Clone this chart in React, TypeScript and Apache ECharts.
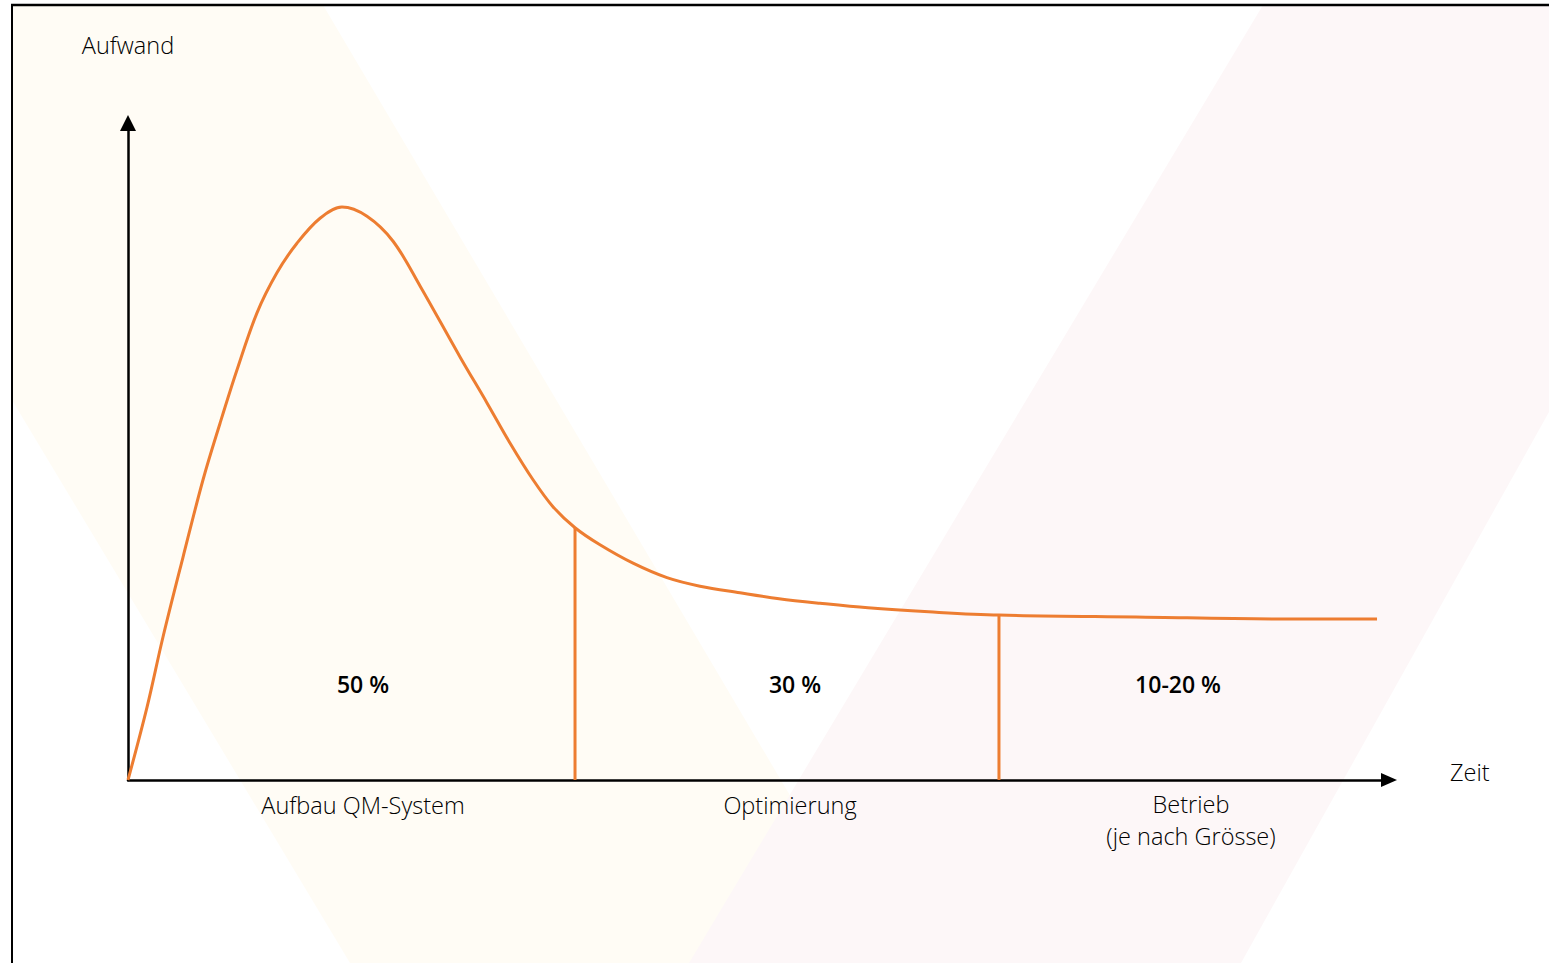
import React, { useEffect, useRef } from "react";
import * as echarts from "echarts";

// Curve: effort over time (x: time 0..100, y: effort 0..100)
const curveX = [0, 1.51, 2.78, 4.36, 5.95, 7.3, 8.64, 10.23, 11.81, 13.4, 15.23, 16.97, 18.95, 21.02, 23.16, 26.33, 28.47, 30.29, 32.12, 33.7, 35.45, 37.43, 40.05, 42.74, 45.36, 48.53, 51.63, 54.88, 58.68, 63.5, 69.07, 79.94, 92.94, 99.05];
const curveY = [0, 11.1, 21.8, 33.9, 45.7, 54.3, 62.4, 71.1, 77.2, 81.7, 85.5, 87.2, 85.8, 82.0, 75.2, 64.4, 57.4, 51.3, 45.7, 41.6, 38.4, 35.8, 33.0, 30.8, 29.5, 28.5, 27.6, 26.9, 26.2, 25.6, 25.1, 24.8, 24.5, 24.5];

// Phase boundaries (vertical lines up to the curve)
const boundaryX = [35.45, 69.07];
const boundaryY = [38.4, 25.1];

// Texts
const phaseNames = ["Aufbau QM-System", "Optimierung", "Betrieb\n(je nach Grösse)"];
const phaseShares = ["50 %", "30 %", "10-20 %"];
const yAxisName = "Aufwand";
const xAxisName = "Zeit";

const ORANGE = "#ED7D31";
const FONT = "'Open Sans', 'Noto Sans', sans-serif";

export default function App() {
  const ref = useRef<HTMLDivElement>(null);

  useEffect(() => {
    if (!ref.current) return;
    const chart = echarts.init(ref.current, undefined, { renderer: "svg" });

    const curveData = curveX.map((x, i) => [x, curveY[i]]);
    const boundarySeries = boundaryX.map((x, i) => ({
      type: "line" as const,
      data: [
        [x, 0],
        [x, boundaryY[i]],
      ],
      symbol: "none",
      lineStyle: { color: ORANGE, width: 3 },
      z: 3,
    }));

    const light = {
      fontFamily: FONT,
      fontSize: 23.5,
      fontWeight: 300,
      fill: "#000",
    };
    const share = {
      fontFamily: FONT,
      fontSize: 23,
      fontWeight: 600,
      fill: "#000",
    };

    chart.setOption({
      animation: false,
      backgroundColor: "#ffffff",
      grid: { left: 128, right: 160, top: 123, bottom: 183 },
      xAxis: {
        type: "value",
        min: 0,
        max: 100,
        name: xAxisName,
        nameLocation: "end",
        nameGap: 61,
        nameTextStyle: {
          fontFamily: FONT,
          fontSize: 23.5,
          fontWeight: 300,
          color: "#000",
          verticalAlign: "bottom",
          lineHeight: 16,
        },
        axisLine: {
          show: true,
          symbol: ["none", "triangle"],
          symbolSize: [14, 16],
          lineStyle: { color: "#000", width: 2.5 },
        },
        axisTick: { show: false },
        axisLabel: { show: false },
        splitLine: { show: false },
      },
      yAxis: {
        type: "value",
        min: 0,
        max: 100,
        name: yAxisName,
        nameLocation: "end",
        nameGap: 66,
        nameTextStyle: {
          fontFamily: FONT,
          fontSize: 23.5,
          fontWeight: 300,
          color: "#000",
          align: "center",
          verticalAlign: "bottom",
          lineHeight: 24,
        },
        axisLine: {
          show: true,
          symbol: ["none", "triangle"],
          symbolSize: [16, 16],
          lineStyle: { color: "#000", width: 2.5 },
        },
        axisTick: { show: false },
        axisLabel: { show: false },
        splitLine: { show: false },
      },
      graphic: [
        {
          type: "polygon",
          z: -10,
          silent: true,
          shape: { points: [[12, 5], [323, 5], [889, 963], [350, 963], [12, 400]] },
          style: { fill: "#FFFCF5" },
        },
        {
          type: "polygon",
          z: -9,
          silent: true,
          shape: { points: [[1263, 5], [1549, 5], [1549, 412], [1241, 963], [689, 963]] },
          style: { fill: "#FDF7F8" },
        },
        {
          type: "line",
          z: 5,
          shape: { x1: 11, y1: 5, x2: 1549, y2: 5 },
          style: { stroke: "#000", lineWidth: 2.5 },
        },
        {
          type: "line",
          z: 5,
          shape: { x1: 12, y1: 4, x2: 12, y2: 963 },
          style: { stroke: "#000", lineWidth: 2 },
        },
        {
          type: "text",
          x: 363,
          y: 805,
          style: { ...light, text: phaseNames[0], align: "center", verticalAlign: "middle" },
        },
        {
          type: "text",
          x: 790,
          y: 805,
          style: { ...light, text: phaseNames[1], align: "center", verticalAlign: "middle" },
        },
        {
          type: "text",
          x: 1191,
          y: 820,
          style: { ...light, text: phaseNames[2], lineHeight: 32, align: "center", verticalAlign: "middle" },
        },
        {
          type: "text",
          x: 363,
          y: 684,
          style: { ...share, text: phaseShares[0], align: "center", verticalAlign: "middle" },
        },
        {
          type: "text",
          x: 795,
          y: 684,
          style: { ...share, text: phaseShares[1], align: "center", verticalAlign: "middle" },
        },
        {
          type: "text",
          x: 1178,
          y: 684,
          style: { ...share, text: phaseShares[2], align: "center", verticalAlign: "middle" },
        },
      ],
      series: [
        {
          type: "line",
          data: curveData,
          smooth: 0.35,
          symbol: "none",
          lineStyle: { color: ORANGE, width: 3 },
          z: 4,
        },
        ...boundarySeries,
      ],
    });

    return () => chart.dispose();
  }, []);

  return (
    <div
      ref={ref}
      style={{ position: "absolute", left: 0, top: 0, width: 1549, height: 963 }}
    />
  );
}
